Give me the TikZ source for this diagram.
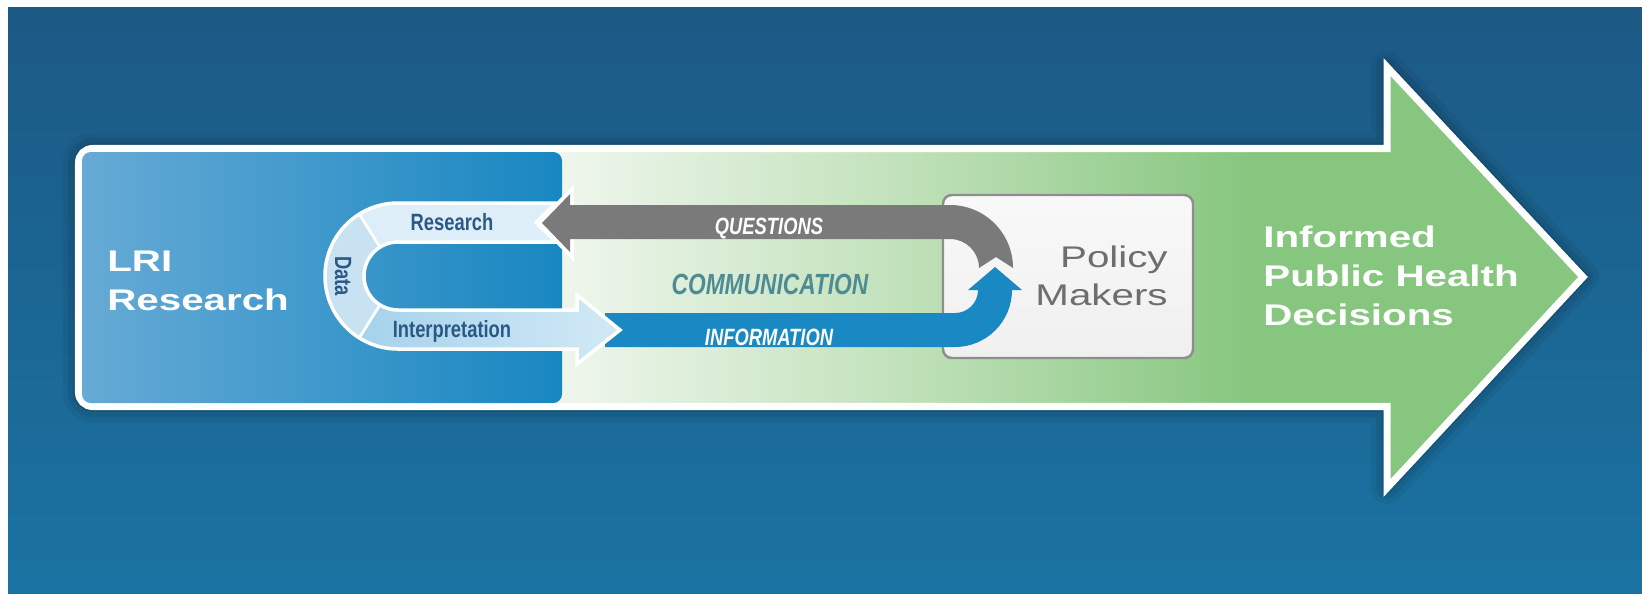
\documentclass[tikz,border=0pt]{standalone}
\usepackage{fontspec}
\usepackage{xcolor}
\usepackage{tikz}
\usetikzlibrary{calc}
\newfontfamily\widefont[FakeStretch=1.35]{Liberation Sans}
\newfontfamily\condfont[FakeStretch=0.78]{Liberation Sans}
\definecolor{fondoA}{HTML}{1C5985}
\definecolor{fondoB}{HTML}{1A73A2}
\definecolor{azulA}{HTML}{66AAD5}
\definecolor{azulB}{HTML}{1887C1}
\definecolor{verdeW}{HTML}{EFF6ED}
\definecolor{verdeM}{HTML}{C3E2BC}
\definecolor{verdeG}{HTML}{86C67F}
\definecolor{gris}{HTML}{7A7A7A}
\definecolor{azulinfo}{HTML}{1A88C2}
\definecolor{bandaA}{HTML}{DDEEF8}
\definecolor{bandaB}{HTML}{C8E2F1}
\definecolor{bandaC}{HTML}{A6D2EC}
\definecolor{bandaD}{HTML}{D2E9F6}
\definecolor{textoazul}{HTML}{2B5986}
\definecolor{textocom}{HTML}{4E8C93}
\definecolor{textogris}{HTML}{6E6E6E}
\definecolor{bordegris}{HTML}{8E8E8E}
\pgfdeclarehorizontalshading{verde}{100bp}{color(0bp)=(verdeW); color(41bp)=(verdeW);
  color(52bp)=(verdeM); color(64bp)=(verdeG); color(100bp)=(verdeG)}
\def\Ro{73}
\def\Ri{34}

\begin{document}
\begin{tikzpicture}[x=0.02cm,y=-0.02cm,
    grande/.style={text=white,font=\widefont\bfseries\fontsize{17}{22}\selectfont,align=left,inner sep=0pt},
    politxt/.style={text=textogris,font=\widefont\fontsize{17}{21.5}\selectfont,align=right,inner sep=0pt},
    bandtxt/.style={text=textoazul,font=\condfont\bfseries\fontsize{13.4}{16}\selectfont,inner sep=0pt},
    flechatxt/.style={text=white,font=\condfont\bfseries\itshape\fontsize{13.4}{16}\selectfont,inner sep=0pt},
    commtxt/.style={text=textocom,font=\condfont\bfseries\itshape\fontsize{16.6}{20}\selectfont,inner sep=0pt}]
    % Fondo
    \fill[white] (0,0) rectangle (1642,593);
    \useasboundingbox (0,0) rectangle (1642,593);
    \shade[top color=fondoA,bottom color=fondoB] (8,7) rectangle (1642,593);

    % Sombra de la flecha grande
    \foreach \w/\o in {18/0.05,12/0.07,6/0.09}
      \draw[line width=\w pt,line join=round,draw=black,opacity=\o]
        (700,148.5) [rounded corners=8pt] -- (78.5,148.5) -- (78.5,406.5) -- (700,406.5)
        [sharp corners] -- (1387,406.5) -- (1387,488) -- (1583,277) -- (1387,67) -- (1387,148.5) -- cycle;

    % Flecha grande
    \shadedraw[shading=verde,draw=white,line width=4pt,line join=miter]
      (700,148.5) [rounded corners=8pt] -- (78.5,148.5) -- (78.5,406.5) -- (700,406.5)
      [sharp corners] -- (1387,406.5) -- (1387,488) -- (1583,277) -- (1387,67) -- (1387,148.5) -- cycle;

    % Caja LRI
    \shade[left color=azulA,right color=azulB,rounded corners=5pt] (82,152) rectangle (562,403);

    % Caja Policy Makers
    \shadedraw[top color=white!95!gray,bottom color=white!88!gray,draw=bordegris,line width=1.4pt,rounded corners=5pt]
      (943,195) rectangle (1193,358);

    % Flecha azul (informacion)
    \fill[azulinfo] (605,313) -- (955,313) arc[start angle=90,end angle=0,radius=23]
      -- (968,290) -- (995,267) -- (1022,290) -- (1012,290)
      arc[start angle=0,end angle=90,radius=57] -- (605,347) -- cycle;

    % Banda en U
    \coordinate (uc) at (398,276);
    \fill[bandaA] (556,203) -- (398,203) arc[start angle=270,end angle=238,radius=\Ro]
      -- ($(uc)+(238:\Ri)$) arc[start angle=238,end angle=270,radius=\Ri]
      -- (556,242) -- (536,222.5) -- cycle;
    \fill[bandaB] ($(uc)+(238:\Ro)$) arc[start angle=238,end angle=122,radius=\Ro]
      -- ($(uc)+(122:\Ri)$) arc[start angle=122,end angle=238,radius=\Ri] -- cycle;
    \shade[left color=bandaC,right color=bandaD] ($(uc)+(122:\Ro)$) arc[start angle=122,end angle=90,radius=\Ro]
      -- (577,349) -- (577,364) -- (620,330) -- (577,295) -- (577,310) -- (398,310)
      arc[start angle=90,end angle=122,radius=\Ri] -- cycle;
    \draw[white,line width=1.6pt] ($(uc)+(238:\Ri)$) -- ($(uc)+(238:\Ro)$)
      ($(uc)+(122:\Ri)$) -- ($(uc)+(122:\Ro)$);
    \draw[white,line width=2pt,line join=miter] (556,203) -- (398,203)
      arc[start angle=270,end angle=90,radius=\Ro] -- (577,349) -- (577,364) -- (620,330)
      -- (577,295) -- (577,310) -- (398,310) arc[start angle=90,end angle=270,radius=\Ri]
      -- (556,242) -- (536,222.5) -- cycle;

    % Flecha gris (preguntas)
    \draw[white,line width=4.5pt,line join=miter] (570,205) -- (570,194) -- (542,223) -- (570,252) -- (570,239);
    \fill[gris] (570,205) -- (950,205) arc[start angle=270,end angle=360,radius=63]
      -- (996,257) -- (979,268) arc[start angle=0,end angle=-90,radius=29]
      -- (570,239) -- (570,252) -- (542,223) -- (570,194) -- cycle;

    % Textos (base = ultima linea)
    \node[grande,anchor=base west] (lri) at (107,310) {LRI\\Research};
    \node[grande,anchor=base west] (informed) at (1263,325) {Informed\\Public Health\\Decisions};
    \node[politxt,anchor=base east] (pm) at (1168,305) {Policy\\Makers};
    \node[bandtxt,anchor=base] (res) at (452,230) {Research};
    \node[bandtxt,anchor=base] (interp) at (452,337) {Interpretation};
    \node[bandtxt,rotate=-90] (data) at (343,276) {Data};
    \node[flechatxt,anchor=base] (quest) at (769,234) {QUESTIONS};
    \node[flechatxt,anchor=base] (info) at (769,345) {INFORMATION};
    \node[commtxt,anchor=base] (comm) at (770,294) {COMMUNICATION};
  \end{tikzpicture}
\end{document}
